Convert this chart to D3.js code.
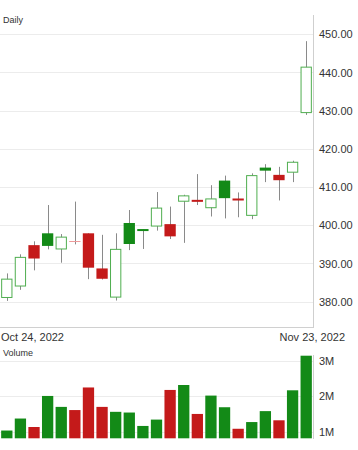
<!DOCTYPE html>
<html><head><meta charset="utf-8">
<script src="https://cdn.jsdelivr.net/npm/d3@7"></script>
<style>body{margin:0;background:#fff;font-family:"Liberation Sans",Arial,sans-serif}</style>
</head><body><svg id="c" width="358" height="450"></svg>
<script>
const dates = ["2022-10-24","2022-10-25","2022-10-26","2022-10-27","2022-10-28","2022-10-31","2022-11-01","2022-11-02","2022-11-03","2022-11-04","2022-11-07","2022-11-08","2022-11-09","2022-11-10","2022-11-11","2022-11-14","2022-11-15","2022-11-16","2022-11-17","2022-11-18","2022-11-21","2022-11-22","2022-11-23"];
const open  = [381.1,384.1,394.8,397.9,393.8,395.9,397.9,388.7,381.2,400.6,398.9,399.8,400.3,406.3,406.6,404.6,411.7,407.0,402.6,415.1,413.2,413.9,429.5];
const high  = [387.4,392.4,395.8,405.3,397.7,406.2,397.9,397.5,397.9,404.0,398.9,408.7,404.9,408.0,413.4,410.5,413.0,408.6,413.6,416.0,415.3,416.9,448.2];
const low   = [380.2,383.1,388.2,393.7,390.2,395.0,385.9,385.8,380.3,393.5,393.8,398.6,396.4,395.4,405.3,402.3,401.8,402.1,401.6,411.3,406.5,411.3,428.9];
const close = [385.9,391.6,391.3,394.6,396.9,396.0,388.9,386.0,393.7,395.1,398.6,404.5,397.1,407.7,406.2,406.9,407.1,406.5,413.0,414.3,411.8,416.5,441.4];
const volume = [1.03,1.37,1.13,2.01,1.70,1.61,2.25,1.70,1.56,1.54,1.16,1.34,2.18,2.32,1.50,2.02,1.69,1.08,1.27,1.58,1.32,2.17,3.15].map(v=>v*1e6);
const priceTicks = [380,390,400,410,420,430,440,450];
const volumeTicks = [1e6,2e6,3e6];
const xLabels = ["Oct 24, 2022","Nov 23, 2022"];

const GREEN="#138a17", HGREEN="#4fae4f", RED="#c41a1a", HRED="#ee9a9a";
const svg = d3.select("#c");
const W = 313;
const x = d3.scaleBand().domain(dates).range([0,W]).paddingInner(0.17).paddingOuter(0.085);
const y = d3.scaleLinear().domain([373.45,455.05]).range([326.7,15]);
const yv = d3.scaleLinear().domain([0.81e6,3.17e6]).range([438.3,355]);

// price grid
const gp = svg.append("g");
gp.selectAll("line.g").data(priceTicks).join("line")
  .attr("x1",0).attr("x2",W).attr("y1",d=>Math.round(y(d))+0.5).attr("y2",d=>Math.round(y(d))+0.5)
  .attr("stroke","#ececec");
svg.append("line").attr("x1",0).attr("x2",W).attr("y1",327.5).attr("y2",327.5).attr("stroke","#d0d0d0");
svg.append("line").attr("x1",W+0.5).attr("x2",W+0.5).attr("y1",15).attr("y2",328).attr("stroke","#cfcfcf");
const ya = d3.axisRight(y).tickValues(priceTicks).tickFormat(d3.format(".2f")).tickSize(0).tickPadding(6);
svg.append("g").attr("transform",`translate(${W},0)`).call(ya)
  .call(g=>g.select(".domain").remove())
  .call(g=>g.selectAll("text").attr("font-size",11).attr("fill","#333").attr("font-family","Liberation Sans, Arial, sans-serif"));

svg.append("text").attr("x",3).attr("y",23).attr("font-size",9).attr("fill","#333").text("Daily");

// candles
const data = dates.map((d,i)=>({d,o:open[i],h:high[i],l:low[i],c:close[i],v:volume[i],
  up: i===0 ? close[i]>=open[i] : close[i]>=close[i-1], hollow: close[i]>=open[i]}));
const cx = d=>x(d.d)+x.bandwidth()/2;
const cg = svg.append("g");
cg.selectAll("line.w").data(data).join("line")
  .attr("x1",d=>Math.round(cx(d))+0.5).attr("x2",d=>Math.round(cx(d))+0.5)
  .attr("y1",d=>y(d.h)).attr("y2",d=>y(d.l)).attr("stroke","#8a8a8a").attr("stroke-width",1);
const bh = d=>y(Math.min(d.o,d.c))-y(Math.max(d.o,d.c));
cg.selectAll("rect.b").data(data.filter(d=>!(d.hollow && bh(d)<2))).join("rect")
  .attr("x",d=>x(d.d)+(d.hollow?0.5:0))
  .attr("width",d=>x.bandwidth()-(d.hollow?1:0))
  .attr("y",d=>{const t=y(Math.max(d.o,d.c)), b=y(Math.min(d.o,d.c)); return b-t<2?(t+b)/2-1:t;})
  .attr("height",d=>Math.max(2,bh(d)))
  .attr("fill",d=>d.hollow?"#fff":(d.up?GREEN:RED))
  .attr("stroke",d=>d.hollow?(d.up?HGREEN:HRED):"none")
  .attr("stroke-width",1);
// flat hollow bodies (doji) as a thin line
cg.selectAll("line.doji").data(data.filter(d=>d.hollow && bh(d)<2)).join("line")
  .attr("x1",d=>x(d.d)).attr("x2",d=>x(d.d)+x.bandwidth())
  .attr("y1",d=>Math.round(y(d.c))+0.5).attr("y2",d=>Math.round(y(d.c))+0.5)
  .attr("stroke",d=>d.up?HGREEN:HRED).attr("stroke-width",1);

// x labels
svg.append("text").attr("x",1).attr("y",341).attr("font-size",11).attr("fill","#333").text(xLabels[0]);
svg.append("text").attr("x",345).attr("y",341).attr("text-anchor","end").attr("font-size",11).attr("fill","#333").text(xLabels[1]);

// volume
svg.append("text").attr("x",3).attr("y",356).attr("font-size",9).attr("fill","#333").text("Volume");
svg.selectAll("line.vg").data(volumeTicks).join("line")
  .attr("x1",0).attr("x2",W).attr("y1",d=>Math.round(yv(d))+0.5).attr("y2",d=>Math.round(yv(d))+0.5)
  .attr("stroke","#ececec");
svg.append("g").selectAll("rect").data(data).join("rect")
  .attr("x",d=>x(d.d)).attr("width",x.bandwidth())
  .attr("y",d=>yv(d.v)).attr("height",d=>yv.range()[0]-yv(d.v))
  .attr("fill",d=>d.up?GREEN:RED);
svg.append("line").attr("x1",W+0.5).attr("x2",W+0.5).attr("y1",355).attr("y2",439).attr("stroke","#cfcfcf");
const va = d3.axisRight(yv).tickValues(volumeTicks).tickFormat(d=>d/1e6+"M").tickSize(0).tickPadding(6);
svg.append("g").attr("transform",`translate(${W},0)`).call(va)
  .call(g=>g.select(".domain").remove())
  .call(g=>g.selectAll("text").attr("font-size",11).attr("fill","#333").attr("font-family","Liberation Sans, Arial, sans-serif"));
</script></body></html>
